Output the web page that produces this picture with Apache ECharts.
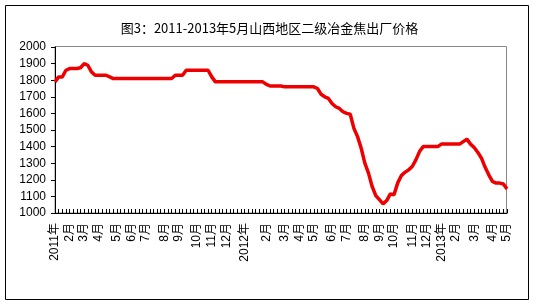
<!DOCTYPE html>
<html>
<head>
<meta charset="utf-8">
<script src="https://cdn.jsdelivr.net/npm/echarts@6/dist/echarts.min.js"></script>
<style>
html,body{margin:0;padding:0;background:#fff;}
#chart{width:539px;height:308px;}
</style>
</head>
<body>
<div id="chart"></div>
<script>
// Weekly categories (label only at first week of each month)
var monthLabels = ['2011年','2月','3月','4月','5月','6月','7月','8月','9月','10月','11月','12月',
  '2012年','2月','3月','4月','5月','6月','7月','8月','9月','10月','11月','12月',
  '2013年','2月','3月','4月','5月'];
var monthStartIndex = [0,4,8,12,17,21,25,30,34,39,43,47,
  52,58,63,67,71,76,80,85,89,93,98,102,
  106,110,115,120,124];

// Price (元/吨), weekly
var prices = [
  1790,1820,1820,1860,1870,1870,1870,1875,1900,1890,
  1850,1830,1830,1830,1830,1820,1810,1810,1810,1810,
  1810,1810,1810,1810,1810,1810,1810,1810,1810,1810,
  1810,1810,1810,1830,1830,1830,1860,1860,1860,1860,
  1860,1860,1860,1820,1790,1790,1790,1790,1790,1790,
  1790,1790,1790,1790,1790,1790,1790,1790,1775,1765,
  1765,1765,1765,1760,1760,1760,1760,1760,1760,1760,
  1760,1760,1750,1715,1700,1690,1660,1640,1630,1610,
  1600,1595,1510,1460,1390,1300,1240,1160,1105,1080,
  1055,1075,1115,1110,1180,1225,1245,1260,1280,1320,
  1370,1400,1400,1400,1400,1400,1415,1415,1415,1415,
  1415,1415,1430,1445,1415,1395,1365,1330,1275,1230,
  1190,1180,1180,1175,1145
];

var yTicks = {min:1000, max:2000, step:100};

var categories = prices.map(function(_, i){
  var k = monthStartIndex.indexOf(i);
  return k >= 0 ? monthLabels[k] : '';
});

var chart = echarts.init(document.getElementById('chart'), null, {renderer:'canvas'});
chart.setOption({
  animation:false,
  backgroundColor:'#fff',
  graphic:[{
    type:'rect', shape:{x:5.5,y:5.5,width:523,height:294},
    style:{fill:'none',stroke:'#000',lineWidth:1}, z:-1
  },{
    type:'rect', shape:{x:55,y:46.5,width:451.5,height:166.5},
    style:{fill:'none',stroke:'#888',lineWidth:1}, z:-1
  }],
  title:{
    text:'图3：2011-2013年5月山西地区二级冶金焦出厂价格',
    left:'center', top:17,
    textStyle:{fontSize:13,fontWeight:'normal',color:'#000',fontFamily:'"Noto Sans CJK SC", "Liberation Sans", sans-serif'}
  },
  grid:{left:55,right:32,top:47,bottom:95},
  xAxis:{
    type:'category', data:categories, boundaryGap:false,
    axisLine:{show:true,lineStyle:{color:'#000',width:1}},
    axisTick:{show:true,inside:true,length:4,interval:0,lineStyle:{color:'#000',width:1}},
    axisLabel:{interval:0,rotate:90,margin:10,fontSize:12,color:'#000',
      fontFamily:'"Liberation Sans", "Noto Sans CJK SC", sans-serif'},
    splitLine:{show:false}
  },
  yAxis:{
    type:'value', min:yTicks.min, max:yTicks.max, interval:yTicks.step,
    axisLine:{show:true,lineStyle:{color:'#000',width:1}},
    axisTick:{show:true,inside:false,length:4,lineStyle:{color:'#000',width:1}},
    axisLabel:{fontSize:12,color:'#000',margin:9,formatter:function(v){return String(v);},
      fontFamily:'"Liberation Sans", Arial, sans-serif'},
    splitLine:{show:false}
  },
  series:[{
    type:'line', data:prices, symbol:'none', smooth:false,
    lineStyle:{color:'#ee0000',width:3.5}
  }]
});
</script>
</body>
</html>
